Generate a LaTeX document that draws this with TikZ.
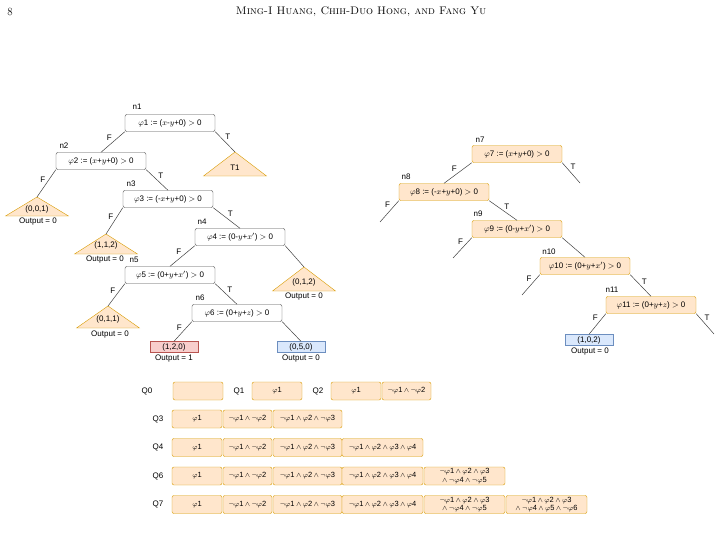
\documentclass[tikz,border=0pt]{standalone}
\usepackage{fontspec}
\newfontfamily\lsans{Liberation Sans}
\definecolor{ofill}{HTML}{FFE6CC}
\definecolor{odraw}{HTML}{D79B00}
\definecolor{rfill}{HTML}{F8CECC}
\definecolor{rdraw}{HTML}{B85450}
\definecolor{bfill}{HTML}{DAE8FC}
\definecolor{bdraw}{HTML}{6C8EBF}
\begin{document}
\begin{tikzpicture}[x=1pt,y=-1pt,
  every node/.style={font=\lsans\fontsize{8}{9}\selectfont, inner sep=0pt},
  pred/.style={draw=black!70, rounded corners=2pt, minimum width=90pt, minimum height=17pt, fill=white},
  opred/.style={draw=odraw, fill=ofill, rounded corners=2pt, minimum width=90pt, minimum height=17pt},
  tri/.style={draw=odraw, fill=ofill},
  leaf/.style={minimum width=48pt, minimum height=11pt},
  e/.style={draw=black!75, line width=0.5pt},
  q/.style={draw=odraw, fill=ofill, rounded corners=2pt, minimum height=18pt, align=center, font=\lsans\fontsize{7.5}{8.5}\selectfont}]
\useasboundingbox (0,0) rectangle (722,538);
% header
\node[font=\fontsize{11}{13}\selectfont] (pg) at (10,12) {8};
\node[font=\fontsize{11}{13}\selectfont\scshape] (hd) at (361,12) {Ming-I Huang, Chih-Duo Hong, and Fang Yu};
% left tree
\node[pred] (n1) at (170,123) {$\varphi$1 := ($x$-$y$+0) $>$ 0};
\node[pred] (n2) at (101,161) {$\varphi$2 := ($x$+$y$+0) $>$ 0};
\node[pred] (n3) at (168,199) {$\varphi$3 := (-$x$+$y$+0) $>$ 0};
\node[pred] (n4) at (240,237) {$\varphi$4 := (0-$y$+$x'$) $>$ 0};
\node[pred] (n5) at (170,275) {$\varphi$5 := (0+$y$+$x'$) $>$ 0};
\node[pred] (n6) at (237,313) {$\varphi$6 := (0+$y$+$z$) $>$ 0};
\node (l1) at (137,107) {n1};
\node (l2) at (64,146) {n2};
\node (l3) at (131,184) {n3};
\node (l4) at (202,222) {n4};
\node (l5) at (134,260) {n5};
\node (l6) at (200,298) {n6};
\coordinate (t1) at (235,152);
\coordinate (a1) at (37,197);
\coordinate (a2) at (106,234);
\coordinate (a4) at (304,267);
\coordinate (a5) at (108,306);
\foreach \c/\h in {t1/24,a1/19,a2/20,a4/24,a5/22}{
  \draw[tri] (\c) -- ++(31.5,\h) -- ++(-63,0) -- cycle;
}
\node (t1l) at (235,168) {T1};
\node (a1l) at (37,209) {(0,0,1)};
\node (a1o) at (38,222) {Output = 0};
\node (a2l) at (106,245) {(1,1,2)};
\node (a2o) at (105,260) {Output = 0};
\node (a4l) at (304,282) {(0,1,2)};
\node (a4o) at (304,297) {Output = 0};
\node (a5l) at (108,319) {(0,1,1)};
\node (a5o) at (110,335) {Output = 0};
\node[leaf, draw=rdraw, fill=rfill] (r6f) at (174,347) {(1,2,0)};
\node (r6fo) at (174,359) {Output = 1};
\node[leaf, draw=bdraw, fill=bfill] (r6t) at (301,347) {(0,5,0)};
\node (r6to) at (301,359) {Output = 0};
\draw[e] (n1.south west) -- node[pos=0.5, above left=1pt] {F} (n2.north);
\draw[e] (n1.south east) -- node[pos=0.45, above right=1pt] {T} (t1);
\draw[e] (n2.south west) -- node[pos=0.5, above left=1pt] {F} (a1);
\draw[e] (n2.south east) -- node[pos=0.5, above right=1pt] {T} (n3.north);
\draw[e] (n3.south west) -- node[pos=0.5, above left=1pt] {F} (a2);
\draw[e] (n3.south east) -- node[pos=0.5, above right=1pt] {T} (n4.north);
\draw[e] (n4.south west) -- node[pos=0.5, above left=1pt] {F} (n5.north);
\draw[e] (n4.south east) -- (a4);
\draw[e] (n5.south west) -- node[pos=0.5, above left=1pt] {F} (a5);
\draw[e] (n5.south east) -- node[pos=0.5, above right=1pt] {T} (n6.north);
\draw[e] (n6.south west) -- node[pos=0.5, above left=1pt] {F} (r6f.north);
\draw[e] (n6.south east) -- (r6t.north);
% right tree
\node[opred] (n7) at (517,154) {$\varphi$7 := ($x$+$y$+0) $>$ 0};
\node[opred] (n8) at (444,192) {$\varphi$8 := (-$x$+$y$+0) $>$ 0};
\node[opred] (n9) at (517,229) {$\varphi$9 := (0-$y$+$x'$) $>$ 0};
\node[opred] (n10) at (585,266) {$\varphi$10 := (0+$y$+$x'$) $>$ 0};
\node[opred] (n11) at (651,305) {$\varphi$11 := (0+$y$+$z$) $>$ 0};
\node (l7) at (480,140) {n7};
\node (l8) at (406,177) {n8};
\node (l9) at (478,214) {n9};
\node (l10) at (549,252) {n10};
\node (l11) at (612,290) {n11};
\node[leaf, draw=bdraw, fill=bfill] (r11) at (589,340) {(1,0,2)};
\node (r11o) at (590,352) {Output = 0};
\coordinate (e7t) at (580,183);
\coordinate (e8f) at (380,222);
\coordinate (e9f) at (453,258);
\coordinate (e10f) at (522,295);
\coordinate (e11t) at (714,334);
\draw[e] (n7.south west) -- node[pos=0.5, above left=1pt] {F} (n8.north);
\draw[e] (n7.south east) -- node[pos=0.4, above right=1pt] {T} (e7t);
\draw[e] (n8.south west) -- node[pos=0.4, above left=1pt] {F} (e8f);
\draw[e] (n8.south east) -- node[pos=0.5, above right=1pt] {T} (n9.north);
\draw[e] (n9.south west) -- node[pos=0.4, above left=1pt] {F} (e9f);
\draw[e] (n9.south east) -- (n10.north);
\draw[e] (n10.south west) -- node[pos=0.4, above left=1pt] {F} (e10f);
\draw[e] (n10.south east) -- node[pos=0.5, above right=1pt] {T} (n11.north);
\draw[e] (n11.south west) -- node[pos=0.4, above left=1pt] {F} (r11.north);
\draw[e] (n11.south east) -- node[pos=0.4, above right=1pt] {T} (e11t);
% queues
\def\qa{$\varphi$1}
\def\qb{$\neg\varphi$1$\,\wedge\,\neg\varphi$2}
\def\qc{$\neg\varphi$1$\,\wedge\,\varphi$2$\,\wedge\,\neg\varphi$3}
\def\qd{$\neg\varphi$1$\,\wedge\,\varphi$2$\,\wedge\,\varphi$3$\,\wedge\,\varphi$4}
\def\qe{$\neg\varphi$1$\,\wedge\,\varphi$2$\,\wedge\,\varphi$3\\$\wedge\,\neg\varphi$4$\,\wedge\,\neg\varphi$5}
\def\qf{$\neg\varphi$1$\,\wedge\,\varphi$2$\,\wedge\,\varphi$3\\$\wedge\,\neg\varphi$4$\,\wedge\,\varphi$5$\,\wedge\,\neg\varphi$6}
\node (Q0) at (147,391) {Q0};
\node[q, minimum width=50pt] (q0a) at (198,391) {};
\node (Q1) at (239,391) {Q1};
\node[q, minimum width=50pt] (q1a) at (277,391) {\qa};
\node (Q2) at (318,391) {Q2};
\node[q, minimum width=50pt] (q2a) at (356,391) {\qa};
\node[q, minimum width=49pt] (q2b) at (406.5,391) {\qb};
\foreach \r/\y in {3/419,4/447.5,6/476,7/504.5}{
  \node (Q\r) at (158,\y) {Q\r};
  \node[q, minimum width=50pt] (q\r a) at (197,\y) {\qa};
  \node[q, minimum width=49pt] (q\r b) at (247.5,\y) {\qb};
  \node[q, minimum width=69pt] (q\r c) at (307.5,\y) {\qc};
}
\foreach \r/\y in {4/447.5,6/476,7/504.5}{
  \node[q, minimum width=81pt] (q\r d) at (382.5,\y) {\qd};
}
\foreach \r/\y in {6/476,7/504.5}{
  \node[q, minimum width=81pt] (q\r e) at (464.5,\y) {\qe};
}
\node[q, minimum width=81pt] (q7f) at (546.5,504.5) {\qf};
\end{tikzpicture}
\end{document}
